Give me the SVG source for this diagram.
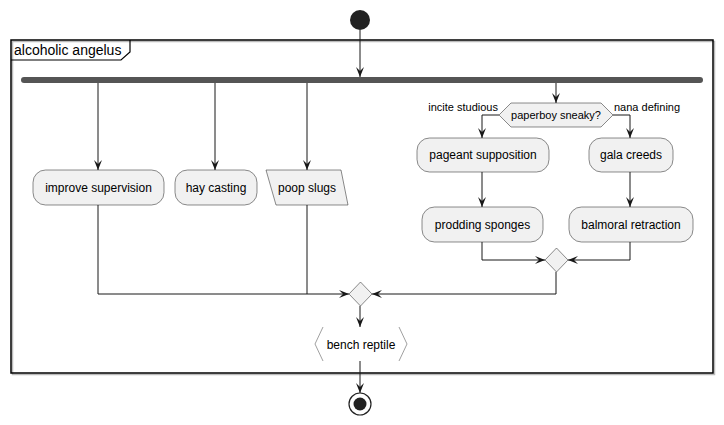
<svg xmlns="http://www.w3.org/2000/svg" width="724" height="425" viewBox="0 0 724 425">
<style>
text{font-family:"Liberation Sans",Arial,sans-serif;fill:#000}
.n{font-size:12px;text-anchor:middle}
.l{font-size:11px}
.box{fill:#F1F1F1;stroke:#181818;stroke-width:0.5}
.e{fill:none;stroke:#181818;stroke-width:1}
</style>
<defs>
<marker id="ah" viewBox="0 0 10 8" refX="10" refY="4" markerWidth="10" markerHeight="8" markerUnits="userSpaceOnUse" orient="auto">
<path d="M0,0 L10,4 L0,8 L4,4 Z" fill="#181818"/>
</marker>
</defs>
<rect width="724" height="425" fill="#fff"/>
<g id="frame">
<rect x="12.5" y="41.5" width="702" height="333" fill="none" stroke="#bbb" stroke-width="1.5"/>
<rect x="11" y="40" width="702" height="333" fill="none" stroke="#000" stroke-width="1.5"/>
<path d="M11,60 H121 L130,52 V40" fill="none" stroke="#000" stroke-width="1.2"/>
<text x="14" y="55" style="font-size:14px">alcoholic angelus</text>
</g>
<g id="start"><circle cx="360" cy="20" r="10" fill="#222"/></g>
<g id="fork"><rect x="21" y="77" width="682" height="6" rx="3" fill="#555"/></g>
<g id="connectors">
<path class="e" d="M360,30 V77" marker-end="url(#ah)"/>
<path class="e" d="M98,83 V170" marker-end="url(#ah)"/>
<path class="e" d="M215,83 V170" marker-end="url(#ah)"/>
<path class="e" d="M307,83 V170" marker-end="url(#ah)"/>
<path class="e" d="M556,83 V103" marker-end="url(#ah)"/>
<path class="e" d="M499,115 H482 V138" marker-end="url(#ah)"/>
<path class="e" d="M613,115 H630 V138" marker-end="url(#ah)"/>
<path class="e" d="M482,172 V207" marker-end="url(#ah)"/>
<path class="e" d="M630,172 V207" marker-end="url(#ah)"/>
<path class="e" d="M482,242 V260 H545" marker-end="url(#ah)"/>
<path class="e" d="M630,242 V260 H568" marker-end="url(#ah)"/>
<path class="e" d="M98,205 V294 H349" marker-end="url(#ah)"/>
<path class="e" d="M307,205 V294"/>
<path class="e" d="M556,272 V294 H372" marker-end="url(#ah)"/>
<path class="e" d="M360,306 V327" marker-end="url(#ah)"/>
<path class="e" d="M360,361 V393" marker-end="url(#ah)"/>
<text class="l" x="498" y="111" text-anchor="end">incite studious</text>
<text class="l" x="614" y="111">nana defining</text>
</g>
<g id="improve-supervision">
<rect class="box" x="33" y="170" width="131" height="35" rx="12.5"/>
<text class="n" x="98.5" y="192">improve supervision</text>
</g>
<g id="hay-casting">
<rect class="box" x="175" y="170" width="82" height="35" rx="12.5"/>
<text class="n" x="216" y="192">hay casting</text>
</g>
<g id="poop-slugs">
<polygon class="box" points="266,170 341,170 348,205 276,205"/>
<text class="n" x="307" y="192">poop slugs</text>
</g>
<g id="paperboy-sneaky">
<polygon class="box" points="499,115 511,103 601,103 613,115 601,127 511,127"/>
<text class="l" x="556" y="119" text-anchor="middle">paperboy sneaky?</text>
</g>
<g id="pageant-supposition">
<rect class="box" x="417" y="138" width="132" height="34" rx="12.5"/>
<text class="n" x="483" y="159">pageant supposition</text>
</g>
<g id="gala-creeds">
<rect class="box" x="589" y="138" width="84" height="34" rx="12.5"/>
<text class="n" x="631" y="159">gala creeds</text>
</g>
<g id="prodding-sponges">
<rect class="box" x="422" y="207" width="121" height="35" rx="12.5"/>
<text class="n" x="482.5" y="229">prodding sponges</text>
</g>
<g id="balmoral-retraction">
<rect class="box" x="569" y="207" width="124" height="35" rx="12.5"/>
<text class="n" x="631" y="229">balmoral retraction</text>
</g>
<g id="merge-right">
<polygon class="box" points="556.5,248 568,260 556.5,272 545,260"/>
</g>
<g id="merge-main">
<polygon class="box" points="360.5,282 372,294 360.5,306 349,294"/>
</g>
<g id="bench-reptile">
<polygon points="323,327 399,327 407,344 399,361 323,361 315,344" fill="#fff" stroke="none"/>
<polyline points="323,327 315,344 323,361" fill="none" stroke="#888" stroke-width="0.8"/>
<polyline points="399,327 407,344 399,361" fill="none" stroke="#888" stroke-width="0.8"/>
<text class="n" x="361" y="349">bench reptile</text>
</g>
<g id="end">
<circle cx="360" cy="404" r="11" fill="none" stroke="#222" stroke-width="1.2"/>
<circle cx="360" cy="404" r="6.5" fill="#222"/>
</g>
</svg>
